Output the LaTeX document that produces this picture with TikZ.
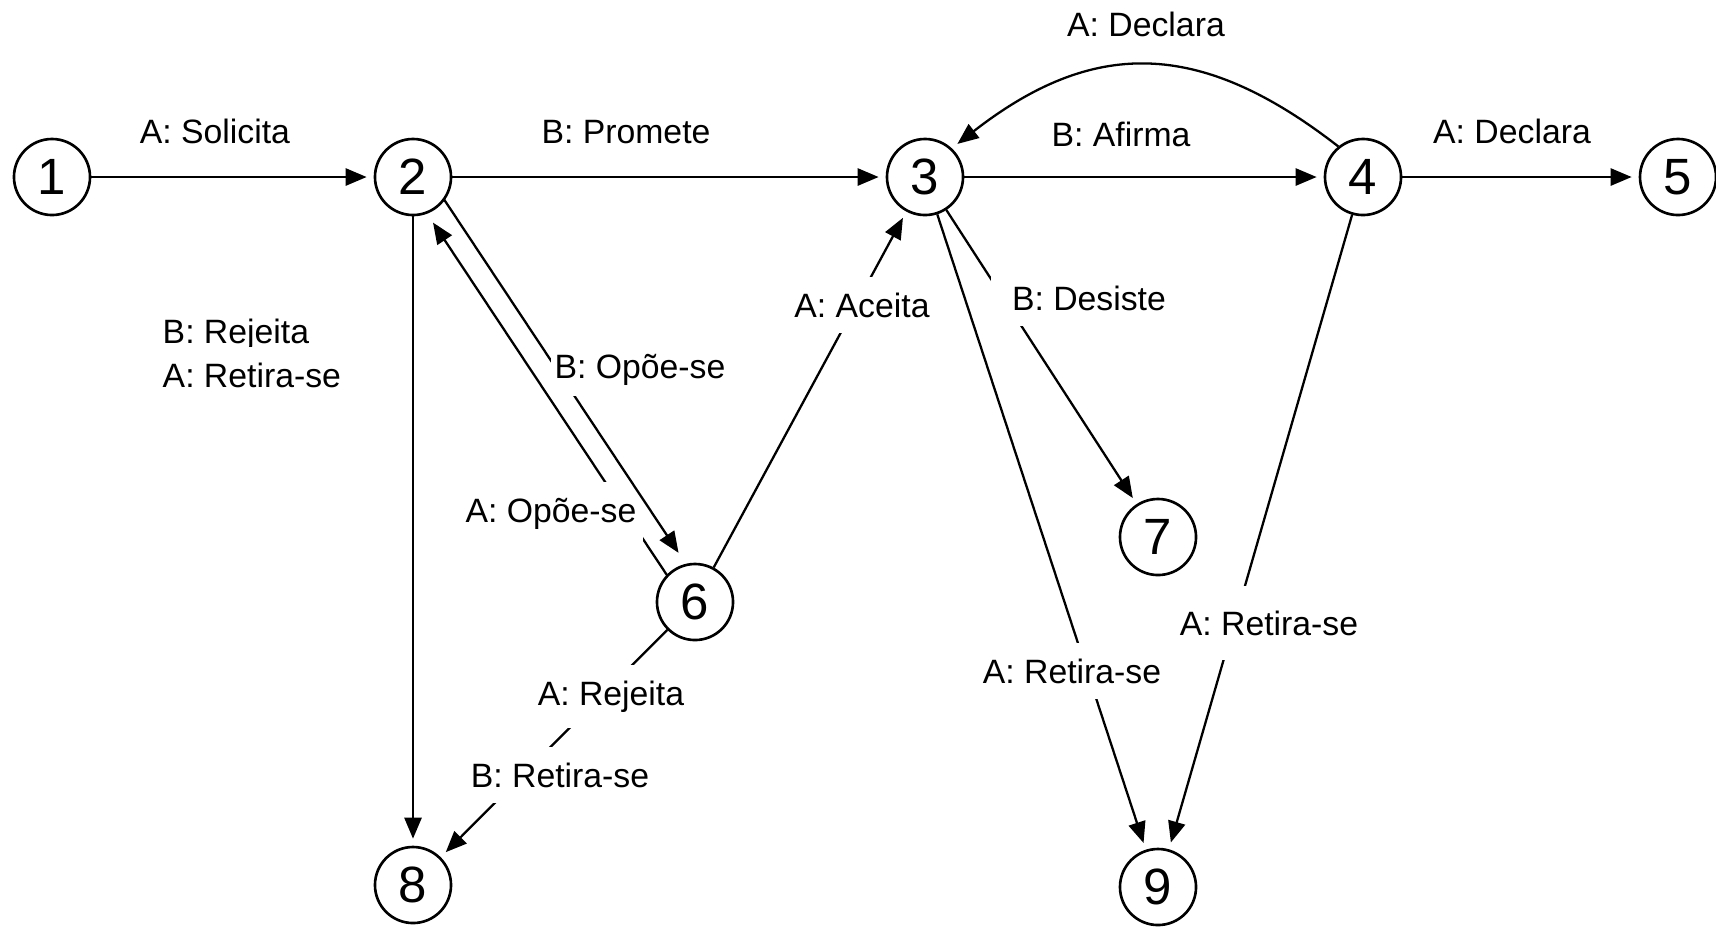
\documentclass[tikz,border=0pt]{standalone}
\usepackage{fontspec}
\setmainfont{Liberation Sans}
\usetikzlibrary{arrows.meta}

\begin{document}
\begin{tikzpicture}[x=0.01cm, y=-0.01cm,
    state/.style={draw, circle, line width=0.75pt, minimum size=0.76cm, inner sep=0pt,
      font=\fontsize{14.5}{16}\selectfont},
    arr/.style={line width=0.65pt, -{Triangle[length=6pt,width=4.9pt]}, shorten >=2pt},
    lbl/.style={fill=white, inner xsep=2pt, inner ysep=4.5pt, anchor=base,
      font=\fontsize{9.6}{12}\selectfont}]
  \useasboundingbox (0,0) rectangle (1716,926);
  % States
  \node[state] (n1) at (52,177) {1};
  \node[state] (n2) at (413,177) {2};
  \node[state] (n3) at (925,177) {3};
  \node[state] (n4) at (1363,177) {4};
  \node[state] (n5) at (1678,177) {5};
  \node[state] (n6) at (695,602) {6};
  \node[state] (n7) at (1158,537) {7};
  \node[state] (n8) at (413,885) {8};
  \node[state] (n9) at (1158,887) {9};
  % Transitions
  \draw[arr] (n1) -- (n2);
  \draw[arr] (n2) -- (n3);
  \draw[arr] (n3) -- (n4);
  \draw[arr] (n4) -- (n5);
  \draw[arr] (n4.129) .. controls +(-140,-109) and +(140,-109) .. (n3.47);
  \draw[arr] (n2) -- (n8);
  \draw[arr, shorten <=0.38cm, shorten >=0.49cm] ([shift={(-7.1,4.7)}]n6.center) -- ([shift={(-7.1,4.7)}]n2.center);
  \draw[arr] (n6) -- (n3);
  \draw[arr] (n6) -- (n8);
  \draw[arr] (n3) -- (n7);
  \draw[arr] (n3) -- (n9);
  \draw[arr] (n4) -- (n9);
  % Labels
  \node[lbl] (lsol) at (215,143) {A: Solicita};
  \node[lbl] (lpro) at (626,143) {B: Promete};
  \node[lbl] (lafi) at (1121,146) {B: Afirma};
  \node[lbl] (ldec) at (1146,36) {A: Declara};
  \node[lbl] (ldec2) at (1512,143) {A: Declara};
  \node[lbl, anchor=base west] (lrej) at (155,343) {B: Rejeita};
  \node[lbl, anchor=base west] (lret) at (155,387) {A: Retira-se};
  \node[lbl] (lopa) at (551,522) {A: Opõe-se};
  \node[lbl] (lace) at (862,317) {A: Aceita};
  \node[lbl, inner xsep=6pt] (ldes) at (1089,310) {B: Desiste};
  \node[lbl] (lrej2) at (611,705) {A: Rejeita};
  \node[lbl] (lret2) at (560,787) {B: Retira-se};
  \node[lbl] (lret3) at (1072,683) {A: Retira-se};
  \node[lbl, inner ysep=7pt] (lret4) at (1269,635) {A: Retira-se};
  % 2 -> 6 on top of the A label
  \draw[arr, shorten <=0.36cm, shorten >=0.5cm] ([shift={(11.2,-7.5)}]n2.center) -- ([shift={(11.2,-7.5)}]n6.center);
  \node[lbl, inner xsep=1pt, inner ysep=3pt] (lopb) at (640,378) {B: Opõe-se};
\end{tikzpicture}
\end{document}
